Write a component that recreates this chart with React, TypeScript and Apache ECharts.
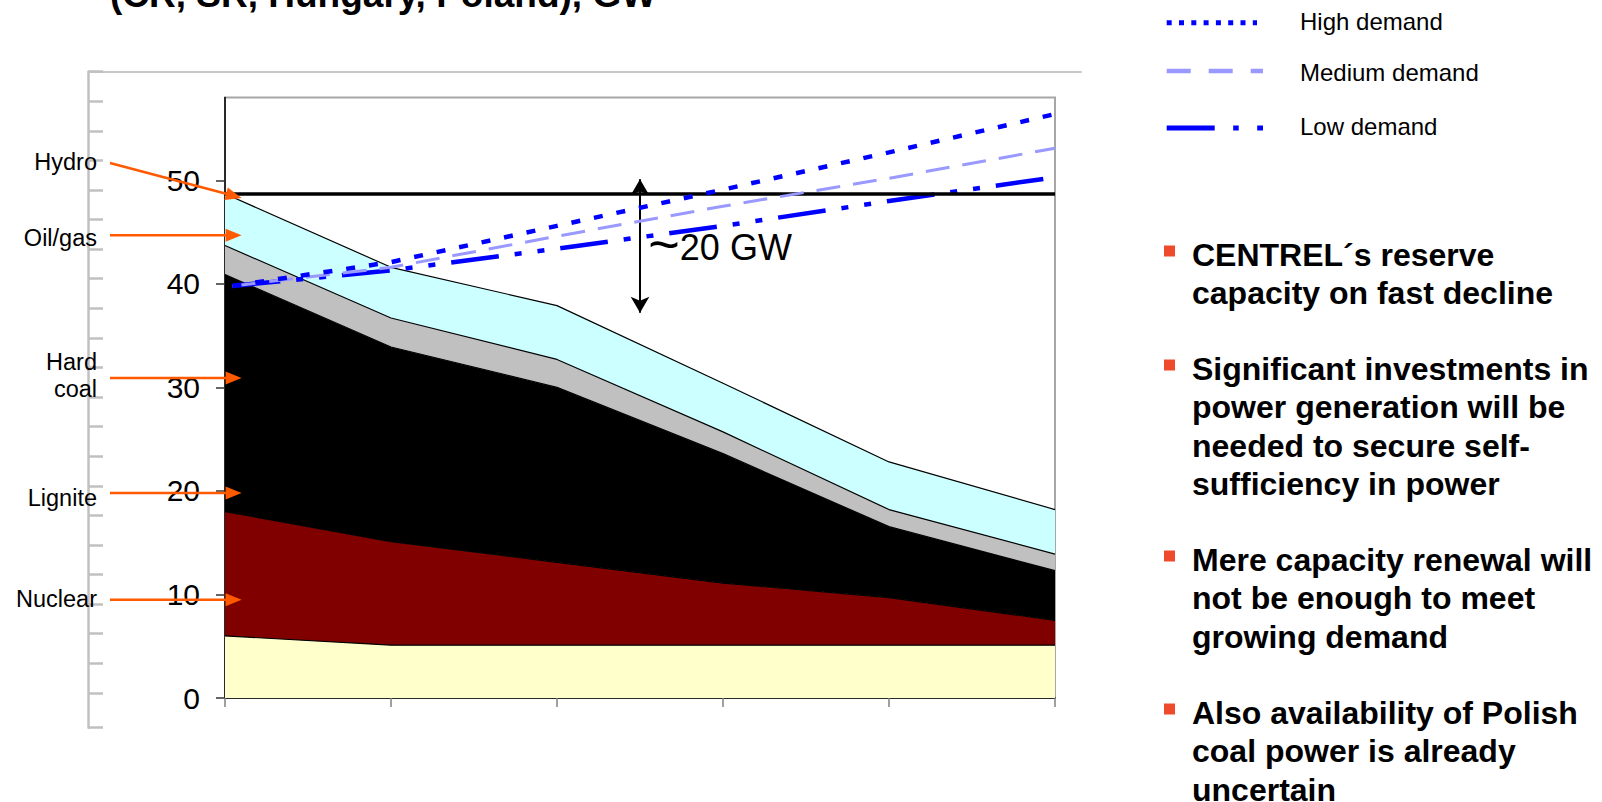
import React, { useEffect, useRef } from 'react';
import * as echarts from 'echarts';

// ---- data ----
const categories = ['P0', 'P1', 'P2', 'P3', 'P4', 'P5'];
const otherBase = [6.0, 5.1, 5.1, 5.1, 5.1, 5.1];
const nuclear = [12.0, 10.0, 8.0, 6.0, 4.6, 2.4];
const coal = [22.9, 18.8, 16.9, 12.5, 6.85, 4.8];
const hydro = [2.8, 2.8, 2.7, 2.1, 1.65, 1.6];
const oilGas = [5.0, 4.9, 5.2, 4.7, 4.6, 4.3];

const demandX = [0.045, 1, 2, 3, 4, 5];
const highDemand = [39.8, 42.1, 45.6, 49.1, 52.7, 56.4];
const mediumDemand = [39.8, 41.6, 44.6, 47.5, 50.2, 53.1];
const lowDemand = [39.8, 41.3, 43.4, 45.6, 48.0, 50.3];

const currentCapacity = [48.7];
const gapArrow = [2.5, 50.1, 37.2];
const gapLabel = [2.55, 43.5];
const yTicks = [0, 10, 20, 30, 40, 50];
const frameTicks = [0, 1, 2, 3, 4, 5, 6, 7, 8, 9, 10, 11, 12, 13, 14, 15, 16, 17, 18, 19, 20, 21, 22.18];

const calloutLabels = ['Hydro', 'Oil/gas', 'Hard\ncoal', 'Lignite', 'Nuclear'];
const calloutValues = [48.3, 44.7, 30.9, 19.8, 9.5];

const demandNames = ['High demand', 'Medium demand', 'Low demand'];
const titleText = '(CR, SR, Hungary, Poland), GW';
const bullets = [
  'CENTREL\u00B4s reserve\ncapacity on fast decline',
  'Significant investments in\npower generation will be\nneeded to secure self-\nsufficiency in power',
  'Mere capacity renewal will\nnot be enough to meet\ngrowing demand',
  'Also availability of Polish\ncoal power is already\nuncertain',
];

const FONT = '"Liberation Sans", Arial, Helvetica, sans-serif';

function pair(xs: number[], ys: number[]) {
  return xs.map((x, i) => [x, ys[i]]);
}

function arrow(x1: number, y1: number, x2: number, y2: number, color: string) {
  const dx = x2 - x1;
  const dy = y2 - y1;
  const len = Math.hypot(dx, dy);
  const ux = dx / len;
  const uy = dy / len;
  const hl = 16;
  const hw = 6.5;
  const bx = x2 - ux * hl;
  const by = y2 - uy * hl;
  return [
    { type: 'line', z: 100, shape: { x1, y1, x2: bx + ux * 2, y2: by + uy * 2 }, style: { stroke: color, lineWidth: 2.5 } },
    {
      type: 'polygon', z: 100,
      shape: { points: [[x2, y2], [bx - uy * hw, by + ux * hw], [bx + uy * hw, by - ux * hw]] },
      style: { fill: color },
    },
  ];
}

function txt(text: string, x: number, y: number, o: any) {
  return {
    type: 'text', z: 100, x, y,
    style: {
      text, fill: '#000', fontFamily: FONT, fontSize: o.size, fontWeight: o.weight || 'normal',
      align: o.align || 'left', textAlign: o.align || 'left',
      verticalAlign: o.va || 'middle', textVerticalAlign: o.va || 'middle',
      lineHeight: o.lh, rich: o.rich,
    },
  };
}

export default function App() {
  const ref = useRef<HTMLDivElement>(null);
  useEffect(() => {
    const el = ref.current!;
    const chart = echarts.init(el, null, { renderer: 'svg' });

    const areaSeries = (name: string, vals: number[], color: string) => ({
      name, type: 'line', xAxisIndex: 0, yAxisIndex: 0, stack: 'capacity',
      data: vals, symbol: 'none', silent: true,
      lineStyle: { color: '#000', width: 1.2 }, areaStyle: { color, opacity: 1 }, z: 2,
    });

    const demandSeries = (name: string, vals: number[], color: string, width: number, dash: number[], extra: any = {}) => ({
      name, type: 'line', xAxisIndex: 2, yAxisIndex: 0, data: pair(demandX, vals), symbol: 'none', silent: true,
      lineStyle: { color, width, type: dash, cap: 'butt' }, z: 5, ...extra,
    });

    const option: any = {
      animation: false,
      backgroundColor: '#ffffff',
      grid: [
        { left: 225, top: 97.5, right: 547, bottom: 104, show: true, borderColor: '#A6A6A6', borderWidth: 2, backgroundColor: '#ffffff' },
        { left: 88, top: 71.7, right: 521, bottom: 74.3, show: false },
      ],
      xAxis: [
        {
          type: 'category', gridIndex: 0, data: categories, boundaryGap: false,
          axisLine: { show: true, onZero: false, lineStyle: { color: '#000', width: 1.5 } },
          axisTick: { show: true, length: 9, alignWithLabel: true, lineStyle: { color: '#808080', width: 1.5 } },
          axisLabel: { show: false }, splitLine: { show: false },
        },
        {
          type: 'value', gridIndex: 1, position: 'top', min: 0, max: 1,
          axisLine: { show: true, onZero: false, lineStyle: { color: '#C8C8C8', width: 2 } },
          axisTick: { show: false }, axisLabel: { show: false }, splitLine: { show: false },
        },
        {
          type: 'value', gridIndex: 0, min: 0, max: 5, show: false,
          axisLine: { show: false }, axisTick: { show: false }, axisLabel: { show: false }, splitLine: { show: false },
        },
      ],
      yAxis: [
        {
          type: 'value', gridIndex: 0, min: 0, max: 58, interval: 10,
          axisLine: { show: true, onZero: false, lineStyle: { color: '#000', width: 1.5 } },
          axisTick: { show: true, length: 9, customValues: yTicks, lineStyle: { color: '#333', width: 1.5 } },
          axisLabel: {
            show: true, customValues: yTicks, margin: 25, fontSize: 30, color: '#000', fontFamily: FONT,
            formatter: (v: number) => (yTicks.indexOf(v) >= 0 ? String(v) : ''),
          },
          splitLine: { show: false },
        },
        {
          type: 'value', gridIndex: 1, inverse: true, min: 0, max: 22.18, interval: 1,
          axisLine: { show: true, onZero: false, lineStyle: { color: '#C0C0C0', width: 2.5 } },
          axisTick: { show: true, inside: true, length: 15, customValues: frameTicks, lineStyle: { color: '#C0C0C0', width: 2.5 } },
          axisLabel: { show: false }, splitLine: { show: false },
        },
      ],
      series: [
        areaSeries('Other', otherBase, '#FFFFCC'),
        areaSeries('Nuclear', nuclear, '#800000'),
        areaSeries('Coal', coal, '#000000'),
        areaSeries('Hydro', hydro, '#C0C0C0'),
        areaSeries('Oil/gas', oilGas, '#CCFFFF'),
        demandSeries(demandNames[2], lowDemand, '#0000FF', 4.5, [48, 16, 7, 16, 7, 16], {
          markLine: {
            silent: true, animation: false,
            symbol: ['arrow', 'arrow'],
            symbolSize: [14, 16],
            data: [[{ coord: [gapArrow[0], gapArrow[1]] }, { coord: [gapArrow[0], gapArrow[2]] }]],
            label: { show: false },
            lineStyle: { color: '#000', width: 2, type: 'solid' },
          },
          z: 4,
        }),
        demandSeries(demandNames[1], mediumDemand, '#9999FF', 3, [24, 13], {
          markLine: {
            silent: true, animation: false,
            symbol: ['none', 'none'],
            data: [{ yAxis: currentCapacity[0] }],
            label: { show: false },
            lineStyle: { color: '#000', width: 3.5, type: 'solid' },
          },
        }),
        demandSeries(demandNames[0], highDemand, '#0000FF', 4.5, [9, 14]),
      ],
    };
    chart.setOption(option);

    // annotations positioned from data values
    const graphics: any[] = [];
    const orange = '#FF5A00';
    const toPx = (p: number[]) => chart.convertToPixel({ xAxisIndex: 2, yAxisIndex: 0 }, p) as number[];
    calloutValues.forEach((v, i) => {
      const tip = toPx([0.1, v]);
      const startY = i === 0 ? tip[1] - 35 : tip[1];
      graphics.push(...arrow(110, startY, tip[0], tip[1], orange));
    });
    const labelY = [161.5, 238, 375.5, 497.5, 599];
    calloutLabels.forEach((t, i) => {
      graphics.push(txt(t, 97, labelY[i], { size: 23.5, align: 'right', lh: 27 }));
    });

    const gl = toPx(gapLabel);
    graphics.push({
      type: 'text', z: 100, x: gl[0], y: gl[1],
      style: {
        text: '{t|~}{n|20 GW}', fill: '#000', fontFamily: FONT, fontSize: 34,
        align: 'left', textAlign: 'left', verticalAlign: 'middle', textVerticalAlign: 'middle',
        rich: {
          t: { fontSize: 54, fontFamily: FONT, fill: '#000', padding: [0, 0, 8, 0] },
          n: { fontSize: 36, fontFamily: FONT, fill: '#000' },
        },
      },
    });

    // title (clipped at top, as in the source slide)
    graphics.push(txt(titleText, 110, -6, { size: 37, weight: 'bold' }));

    // legend
    const legendRows = [
      { y: 22.7, ty: 21.7, color: '#0000FF', w: 5, dash: [5, 7.3], x2: 1257 },
      { y: 71, ty: 72.7, color: '#9999FF', w: 4.5, dash: [24, 18], x2: 1263 },
      { y: 128, ty: 126.7, color: '#0000FF', w: 5, dash: [48, 18.5, 5.5, 18.5, 6, 20], x2: 1263 },
    ];
    legendRows.forEach((r, i) => {
      graphics.push({
        type: 'line', z: 100, shape: { x1: 1166.7, y1: r.y, x2: r.x2, y2: r.y },
        style: { stroke: r.color, lineWidth: r.w, lineDash: r.dash, lineCap: 'butt' },
      });
      graphics.push(txt(demandNames[i], 1300, r.ty, { size: 24 }));
    });

    // bullets
    const bulletTop = [255, 369, 560, 713];
    const lh = 38.3;
    bullets.forEach((b, i) => {
      graphics.push({
        type: 'rect', z: 100, shape: { x: 1164, y: bulletTop[i] - 9.5, width: 11, height: 11 },
        style: { fill: '#EF4A2D' },
      });
      graphics.push(txt(b, 1192, bulletTop[i] - lh / 2, { size: 32, weight: 'bold', va: 'top', lh }));
    });

    chart.setOption({ graphic: graphics });

    return () => chart.dispose();
  }, []);

  return (
    <div
      ref={ref}
      style={{ position: 'fixed', left: 0, top: 0, width: 1602, height: 802, background: '#fff' }}
    />
  );
}
